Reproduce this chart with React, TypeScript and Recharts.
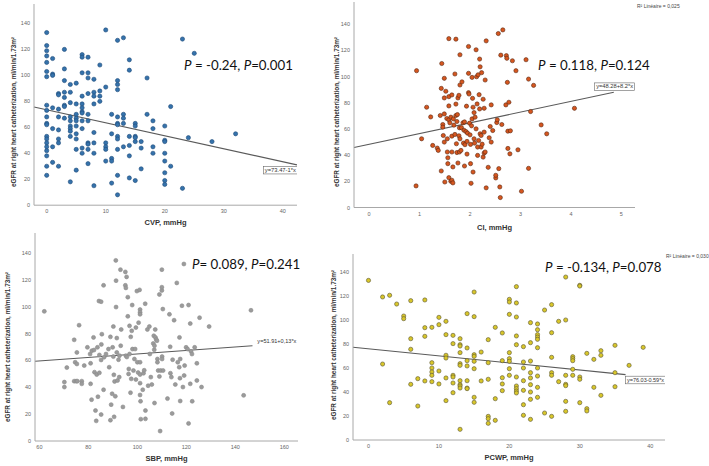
import React from "react";
import { ScatterChart, Scatter, XAxis, YAxis, ReferenceLine, ReferenceDot } from "recharts";

// ---- data: [x, eGFR] pairs ----
const cvpPoints = [
  [0,133],[0,123],[0,119],[0,115],[0,110],[0,103],[0,99],[0,77],[0,73],[0,68],[0,63],[0,62],[0,53],[0,51],[0,48],[0,45],[0,42],[0,38],[0,30],[0,23],
  [1,113],[1,101],[1,100],[1,75],[1,59],[1,45],[1,33],
  [2,86],[2,85],[2,74],[2,68],[2,58],[2,51],[2,48],[2,30],
  [3,120],[3,105],[3,96],[3,87],[3,83],[3,77],[3,76],[3,67],
  [4,93],[4,87],[4,79],[4,68],[4,65],[4,61],[4,59],[4,57],[4,53],[4,18],
  [5,94],[5,78],[5,70],[5,67],[5,65],[5,61],[5,55],[5,51],[5,43],[5,27],
  [6,116],[6,114],[6,102],[6,84],[6,78],[6,75],[6,72],[6,71],[6,65],[6,59],[6,44],[6,40],
  [7,114],[7,102],[7,98],[7,86],[7,70],[7,65],[7,48],[7,47],[7,43],[7,32],
  [8,97],[8,87],[8,84],[8,78],[8,56],[8,48],[8,40],[8,15],
  [9,108],[9,88],[9,84],[9,80],
  [10,135],[10,91],[10,48],[10,45],[10,43],[10,34],
  [11,70],[11,55],[11,36],[11,34],[11,17],
  [12,127],[12,96],[12,93],[12,89],[12,68],[12,63],[12,62],[12,53],[12,51],[12,43],[12,23],[12,8],
  [13,129],[13,70],[13,67],[13,63],[13,45],
  [14,112],[14,104],[14,53],[14,46],[14,38],[14,21],
  [15,63],[15,61],[15,53],[15,52],[15,49],[15,19],
  [16,49],[16,44],[16,28],
  [17,98],[17,70],
  [18,65],[18,59],[18,45],[18,40],
  [20,61],[20,50],[20,49],[20,40],[20,34],[20,25],[20,19],[20,16],
  [21,76],[21,30],
  [23,128],[23,13],
  [24,52],[25,117],[28,49],[32,55],
];

const ciPoints = [
  [0.94,104.5],[0.93,16.5],[1.04,52.5],[1.14,76.6],[1.22,69.2],[1.26,47.4],[1.35,45.4],[1.37,43.6],[1.41,70.3],[1.43,91],
  [1.43,27.9],[1.44,110],[1.46,63.4],[1.46,61.4],[1.47,55],[1.49,98.7],[1.49,83.7],[1.49,71.5],[1.49,50],[1.5,19.5],
  [1.52,88.8],[1.54,68],[1.55,52.5],[1.55,42.4],[1.56,38],[1.56,33.5],[1.58,129],[1.58,84.7],[1.58,77.6],[1.58,67],
  [1.58,22.8],[1.6,64.7],[1.62,69],[1.62,20],[1.64,54.5],[1.64,42.4],[1.64,86],[1.64,20.8],[1.66,31],[1.66,18.8],
  [1.67,67.7],[1.68,62.9],[1.7,102],[1.7,55.8],[1.72,70.3],[1.72,128.6],[1.72,79],[1.73,48.7],[1.74,42],[1.74,65.7],
  [1.75,71],[1.76,83.7],[1.76,34],[1.78,54.8],[1.78,85.7],[1.79,42.4],[1.79,60.9],[1.8,93.6],[1.8,116.7],[1.8,52.5],
  [1.82,43.6],[1.83,61],[1.84,96],[1.86,64.7],[1.87,49.2],[1.88,59],[1.89,65.4],[1.89,31.7],[1.9,48],[1.92,58],
  [1.93,77.4],[1.94,50.5],[1.94,40.8],[1.95,56.8],[1.97,123],[1.97,102.5],[1.97,87.7],[1.98,86.7],[1.99,64.4],[2,55.5],
  [2.01,48.2],[2.01,33.5],[2.02,18.5],[2.03,62.4],[2.04,99.4],[2.04,67.7],[2.05,83.4],[2.06,76.6],[2.06,27.1],[2.08,72.5],
  [2.08,52.5],[2.09,49.2],[2.1,69],[2.12,120.5],[2.12,60.1],[2.13,99.9],[2.14,79.1],[2.15,39.8],[2.15,46.2],[2.16,101.4],
  [2.17,51.2],[2.18,86.2],[2.19,113.4],[2.19,75.3],[2.2,107.5],[2.2,56.3],[2.22,55],[2.22,46.2],[2.23,103],[2.24,48.4],
  [2.26,82.7],[2.26,38.5],[2.28,75.8],[2.28,57.6],[2.28,41.6],[2.3,97.4],[2.3,42.4],[2.32,127.3],[2.32,15],[2.36,30.7],
  [2.38,53.3],[2.4,61.9],[2.42,78.4],[2.42,50],[2.45,58.8],[2.51,22.6],[2.51,24.6],[2.53,64.9],[2.54,67],[2.56,132.9],
  [2.57,29.7],[2.59,15.7],[2.6,7.6],[2.61,116.4],[2.63,63.4],[2.65,135.7],[2.71,78.4],[2.72,116],[2.73,114],[2.74,95.6],
  [2.75,45.1],[2.75,58.3],[2.77,80.4],[2.79,41],[2.8,58.6],[2.84,112.1],[2.91,104.5],[2.95,44.1],[3.02,12.4],[3.11,112.9],
  [3.16,98.1],[3.16,29.9],[3.2,73.3],[3.26,93.3],[3.41,63.1],[3.52,56.3],[4.07,75.8],
];

const sbpPoints = [
  [62,96.6],[70.2,40.2],[70.2,43.9],[71.2,54.7],[74.2,75.4],[74.2,44.6],[74.6,58.7],[75,44.6],[75.3,66],[75.5,44.6],
  [76.2,86.3],[75.3,57.4],[77.3,44.6],[77.3,42.6],[78.3,56.2],[79.6,69.8],[80.7,64.8],[80.9,42.6],[81.4,67.3],[80.9,57.9],
  [81.3,30.8],[82.1,77.2],[82.3,67.8],[82.5,51.3],[82.9,22.7],[83.2,15],[83.4,49.5],[83.7,69.8],[83.9,33],[84.3,104.3],
  [84.5,64.1],[84.5,50.8],[85.2,103.8],[85.2,60.4],[85.2,19.7],[85.3,72],[85.5,79.6],[86.2,116],[86.2,38.2],[86.4,62.4],
  [87.2,64.8],[88.2,68.5],[88.5,55],[89,15.5],[89,77.6],[89.3,27.1],[89.7,35.2],[90.2,85.3],[89.9,69.8],[90.2,62.9],
  [90.4,49.3],[90.5,18],[90.7,44.4],[91,33.3],[91.2,134.6],[91.3,119.5],[91.3,99.8],[91.6,76.7],[91.6,66],[91.9,45.1],
  [92.3,60.6],[92.6,47.6],[92.7,63.6],[93.1,127.7],[93.4,83.1],[93.2,71],[94.1,25.4],[95.1,126],[95.1,116],[95.3,114.1],
  [95.6,122.3],[95.3,63.6],[95.7,62.6],[96.1,107.2],[96.1,92.9],[96.4,50],[96.5,53.7],[96.8,85.8],[96.8,64.8],[97.2,36],
  [97.3,77.6],[97.5,46.3],[97.7,82.1],[97.9,101.3],[98,68.5],[98.4,52.5],[98.8,61.1],[99.1,68.5],[99.4,84.5],[99.4,45.8],
  [99.8,111.7],[100,58.7],[100.3,51],[100.5,88.2],[100.9,112.6],[101.1,97.9],[101.1,95.9],[101.1,94.4],[101.1,58.7],[101.1,49.5],
  [101.1,43.1],[101.1,34.3],[101.3,29.6],[101.4,16.3],[102.2,38.2],[102.5,50.5],[102.8,52.7],[103.2,102.3],[103.3,22.7],[103.3,16.5],
  [104.1,83.1],[104.4,41.2],[104.9,85.3],[105.1,64.8],[105.5,47.6],[105.9,42.1],[106.5,72.7],[106.7,78.4],[106.9,68],[107,28.3],
  [107,71],[107.3,83.1],[107.4,77.2],[107.7,75.7],[108,74.7],[108.2,61.1],[108.2,58.7],[108.5,52.5],[109,109.2],[109,48.1],
  [109.3,7.4],[109.5,52.5],[110,127.7],[110,112.2],[110,114.6],[110.1,62.9],[110.1,61.1],[110.4,98.3],[110.5,52.5],[112.3,31.6],
  [113.1,94.4],[113.4,70.2],[113.5,50.5],[113.9,47.6],[114.2,20.5],[114.4,60.6],[115,90],[115.5,42.1],[116.1,117.8],[116.5,58.7],
  [117.1,55],[117.2,77.2],[117.4,46.8],[117.5,29.8],[117.5,61.1],[118.2,100.8],[118.6,40.2],[119,131.9],[119.1,48.8],[119.3,56.2],
  [119.9,69.8],[120.5,68.5],[120.9,101.3],[120.9,13.1],[121.6,42.6],[121.6,87.5],[121.9,66.8],[122.3,64.8],[122.4,29.6],[123.4,69.8],
  [124.3,57.9],[124.3,45.1],[125.4,91.9],[126.2,40.2],[129.3,85.3],[143.4,34],[146.4,97.4],
];

const pcwpPoints = [
  [0,133],[2,119.2],[2,63.3],[3,120.6],[3,31.1],[4,113.3],[5,103.3],[5,101.1],[6,116.1],[6,84.4],[6,75.6],[6,46.4],
  [7,51.1],[7,28.3],[8,116.7],[8,93.6],[8,86.4],[8,49.2],[9,93.9],[9,64.4],[9,60],[9,56.7],[9,53.9],[9,48.6],
  [10,102.2],[10,96.1],[10,57.5],[10,46.7],[11,98.9],[11,87.8],[11,70.6],[11,68.3],[11,51.7],[11,32.8],
  [12,87.2],[12,80.3],[12,53.9],[12,52.5],[12,47.5],[12,39.4],
  [13,84.4],[13,79.4],[13,78.3],[13,72.8],[13,63.6],[13,62.2],[13,49.4],[13,46.1],[13,45],[13,43.3],[13,8.9],
  [14,105.3],[14,76.7],[14,66.1],[14,61.7],[14,49.4],[14,43.3],[14,42.8],
  [15,123.3],[15,102.8],[15,71.1],[15,69.7],[15,65.6],[15,59.4],[15,35.6],[15,31.4],
  [16,49.2],[16,73.3],[17,83.6],[17,64.4],[17,50.6],[17,19.7],[17,17.8],[17,13.9],[18,93.9],[18,34.4],[18,16.4],
  [19,89.2],[19,66.1],[19,51.9],[19,46.7],[19,41.1],
  [20,117.2],[20,115],[20,104.7],[20,72.8],[20,67.8],[20,65.6],[20,59.4],[20,53.9],
  [21,127.8],[21,114.2],[21,102.5],[21,86.7],[21,79.4],[21,52.5],[21,45],[21,42.8],[21,40.8],[21,39.2],
  [22,77.8],[22,65],[22,60],[22,49.4],[22,41.4],[22,29.4],[22,20.6],
  [23,97.8],[23,81.1],[23,65.8],[23,56.1],[23,51.7],[23,46.1],[23,40],[23,33.9],[23,17.2],
  [24,96.7],[24,91.9],[24,87.8],[24,85.8],[24,83.9],[24,76.9],[24,60],[24,53.3],[24,43.9],[24,35.6],
  [25,108.3],[25,22.5],[26,112.8],[26,89.4],[26,68.9],[26,56.1],[26,53.9],[26,19.7],[27,98.9],[27,48.6],
  [28,135.8],[28,100],[28,53.9],[28,46.4],[28,45.3],[28,32.2],[28,23.9],
  [29,69.4],[29,67.8],[29,66.1],[29,58.9],[29,53.9],
  [30,128.9],[30,128.3],[30,52.5],[30,50.6],[30,31.1],
  [31,72.2],[31,26.1],[31,24.2],[32,67.2],[32,43.9],[33,74.4],[33,70.6],[33,37.2],
  [35,78.9],[35,56.1],[35,44.4],[37,62.2],[39,77.2],
];

// regression fits: [intercept, slope]
const cvpFit = [73.47, -1];
const ciFit = [48.28, 8.2];
const sbpFit = [51.91, 0.13];
const pcwpFit = [76.03, -0.59];

const yTicks = [0, 20, 40, 60, 80, 100, 120, 140];
const cvpTicks = [0, 10, 20, 30, 40];
const ciTicks = [0, 1, 2, 3, 4, 5];
const sbpTicks = [60, 80, 100, 120, 140, 160];
const pcwpTicks = [0, 10, 20, 30, 40];

const YLABEL = "eGFR at right heart catheterization, ml/min/1.73m²";
const SANS = "'Liberation Sans', Arial, sans-serif";

const XTick = (p: any) => (
  <text x={p.x} y={p.y + 8} textAnchor="middle" fontSize={5.5} fill="#666" fontFamily={SANS}>
    {p.payload.value}
  </text>
);
const YTick = (p: any) => (
  <text x={p.x - 4} y={p.y + 2} textAnchor="end" fontSize={5.5} fill="#666" fontFamily={SANS}>
    {p.payload.value}
  </text>
);

type Cfg = {
  plotLeft: number; plotTop: number; plotW: number; plotH: number;
  xDomain: [number, number]; yDomain: [number, number]; xTicks: number[];
  points: number[][]; fill: string; stroke: string; r: number;
  fit: number[]; lineX: [number, number];
  eqText: string; eqX: number; eqY: number; eqW: number; eqBox: boolean;
};

function Panel({ c }: { c: Cfg }) {
  const YW = 30, XH = 20;
  const data = c.points.map(([x, y]) => ({ x, y }));
  const [b, m] = c.fit;
  const [x1, x2] = c.lineX;
  return (
    <div style={{ position: "absolute", left: c.plotLeft - YW, top: c.plotTop }}>
      <ScatterChart width={c.plotW + YW} height={c.plotH + XH} margin={{ top: 0, right: 0, bottom: 0, left: 0 }}>
        <XAxis type="number" dataKey="x" domain={c.xDomain} allowDataOverflow ticks={c.xTicks} interval={0}
          height={XH} tickSize={0} tickMargin={0} tickLine={false} axisLine={{ stroke: "#a8a8a8", strokeWidth: 1 }} tick={XTick} />
        <YAxis type="number" dataKey="y" domain={c.yDomain} allowDataOverflow ticks={yTicks} interval={0}
          width={YW} tickSize={0} tickMargin={0} tickLine={false} axisLine={{ stroke: "#a8a8a8", strokeWidth: 1 }} tick={YTick} />
        <Scatter data={data} isAnimationActive={false}
          shape={(p: any) => <circle cx={p.cx} cy={p.cy} r={c.r} fill={c.fill} stroke={c.stroke} strokeWidth={0.6} />} />
        <ReferenceLine ifOverflow="visible" stroke="#5a5a5a" strokeWidth={1.1}
          segment={[{ x: x1, y: b + m * x1 }, { x: x2, y: b + m * x2 }]} />
        <ReferenceDot x={c.eqX} y={c.eqY} ifOverflow="visible"
          shape={(p: any) => (
            <g>
              {c.eqBox && <rect x={p.cx} y={p.cy - 3.8} width={c.eqW} height={7.6} fill="#fff" stroke="#666" strokeWidth={0.6} />}
              <text x={p.cx + 1.5} y={p.cy + 1.8} fontSize={4.8} fill="#333" fontFamily={SANS}
                textLength={c.eqW - 3} lengthAdjust="spacingAndGlyphs">{c.eqText}</text>
            </g>
          )} />
      </ScatterChart>
    </div>
  );
}

const panels: Cfg[] = [
  { plotLeft: 34, plotTop: 3.8, plotW: 263, plotH: 201.2, xDomain: [-2.15, 42.4], yDomain: [0, 155], xTicks: cvpTicks,
    points: cvpPoints, fill: "#3572ab", stroke: "#1d4a78", r: 2.1, fit: cvpFit, lineX: [-2.15, 42.4],
    eqText: "y=73.47-1*x", eqX: 36.7, eqY: 27, eqW: 34, eqBox: true },
  { plotLeft: 354, plotTop: 1.8, plotW: 281, plotH: 205.5, xDomain: [-0.3, 5.27], yDomain: [0, 157], xTicks: ciTicks,
    points: ciPoints, fill: "#d5561f", stroke: "#5a2812", r: 2.1, fit: ciFit, lineX: [-0.3, 4.85],
    eqText: "y=48.28+8.2*x", eqX: 4.47, eqY: 92.3, eqW: 40, eqBox: true },
  { plotLeft: 35, plotTop: 233, plotW: 263, plotH: 208, xDomain: [58.2, 165.6], yDomain: [0, 155], xTicks: sbpTicks,
    points: sbpPoints, fill: "#9b9b9b", stroke: "#8c8c8c", r: 2.0, fit: sbpFit, lineX: [58.2, 147],
    eqText: "y=51.91+0,13*x", eqX: 148.4, eqY: 74, eqW: 42, eqBox: false },
  { plotLeft: 353, plotTop: 254, plotW: 312, plotH: 186, xDomain: [-2.2, 42.1], yDomain: [0, 155], xTicks: pcwpTicks,
    points: pcwpPoints, fill: "#d8c62a", stroke: "#5b5633", r: 2.1, fit: pcwpFit, lineX: [-2.2, 36.5],
    eqText: "y=76.03-0.59*x", eqX: 36.5, eqY: 50, eqW: 40, eqBox: true },
];

const xLabels = [
  { t: "CVP, mmHg", x: 165.5, y: 225 },
  { t: "CI, mmHg", x: 494.5, y: 229.5 },
  { t: "SBP, mmHg", x: 166.5, y: 461 },
  { t: "PCWP, mmHg", x: 509, y: 459.5 },
];
const yLabels = [
  { x: 13, y: 112 }, { x: 336, y: 112 }, { x: 7, y: 347 }, { x: 333, y: 345 },
];
const stats = [
  { a: " = -0.24, ", b: "=0.001", x: 184, y: 70 },
  { a: " = 0.118, ", b: "=0.124", x: 538, y: 70 },
  { a: "= 0.089, ", b: "=0.241", x: 192, y: 269 },
  { a: " = -0.134, ", b: "=0.078", x: 545, y: 272 },
];
const r2Labels = [
  { t: "R² Linéaire = 0,025", x: 637, y: 7.5 },
  { t: "R² Linéaire = 0,030", x: 666, y: 258 },
];

export default function App() {
  return (
    <div style={{ position: "absolute", left: 0, top: 0, width: 709, height: 466, background: "#fff", overflow: "hidden" }}>
      {panels.map((c, i) => <Panel key={i} c={c} />)}
      <svg width={709} height={466} style={{ position: "absolute", left: 0, top: 0, pointerEvents: "none" }}>
        {xLabels.map((l, i) => (
          <text key={i} x={l.x} y={l.y} textAnchor="middle" fontSize={7.5} fontWeight={600} fill="#333" fontFamily={SANS}>{l.t}</text>
        ))}
        {yLabels.map((l, i) => (
          <text key={i} x={l.x + 2.5} y={l.y} textAnchor="middle" fontSize={7} fontWeight={700} fill="#333" fontFamily={SANS}
            textLength={150} lengthAdjust="spacingAndGlyphs" transform={`rotate(-90 ${l.x + 2.5} ${l.y})`}>{YLABEL}</text>
        ))}
        {stats.map((s, i) => (
          <text key={i} x={s.x} y={s.y} fontSize={13.3} fill="#111" fontFamily="Lato, 'Open Sans', sans-serif">
            <tspan fontStyle="italic">P</tspan>{s.a}<tspan fontStyle="italic">P</tspan>{s.b}
          </text>
        ))}
        {r2Labels.map((l, i) => (
          <text key={i} x={l.x} y={l.y} fontSize={5} fill="#444" fontFamily={SANS}>{l.t}</text>
        ))}
      </svg>
    </div>
  );
}
